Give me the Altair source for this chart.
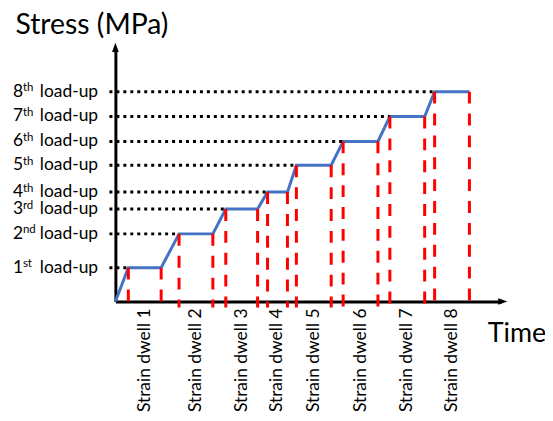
import altair as alt
import pandas as pd

# ---- data ----
nums = ["1", "2", "3", "4", "5", "6", "7", "8"]
sups = ["st", "nd", "rd", "th", "th", "th", "th", "th"]
stress = [3.4, 6.8, 9.3, 11.0, 13.7, 16.1, 18.6, 21.1]
dwell_start = [1.3, 6.4, 11.1, 15.3, 18.2, 22.9, 27.6, 32.1]
dwell_end = [4.6, 9.8, 14.3, 17.3, 21.7, 26.4, 31.1, 35.6]
dwell_names = ["Strain dwell " + n for n in nums]

X_MAX = 38.8
Y_MAX = 25.4
BELOW = -0.6   # dashed guides run just below the time axis
LEFT = -0.6    # dotted guides start just left of the stress axis
LABEL_Y = -0.7

FONT = "Lato"

levels = pd.DataFrame({
    "num": nums, "sup": sups, "stress": stress,
    "start": dwell_start, "end": dwell_end, "name": dwell_names,
})

path_t, path_s = [0.0], [0.0]
for s, a, b in zip(stress, dwell_start, dwell_end):
    path_t += [a, b]
    path_s += [s, s]
path = pd.DataFrame({"t": path_t, "s": path_s, "o": list(range(len(path_t)))})

guides = pd.DataFrame({"t": dwell_start + dwell_end, "s": stress + stress})

xs = alt.Scale(domain=[0, X_MAX], nice=False, zero=False)
ys = alt.Scale(domain=[0, Y_MAX], nice=False, zero=False)

x_axis = alt.Axis(
    title="Time", ticks=False, labels=False, grid=False,
    domainColor="black", domainWidth=3,
    titleFont=FONT, titleFontSize=27, titleFontWeight="normal", titleColor="black",
    titleX=374, titleY=40, titleAlign="left", titleBaseline="alphabetic", titleAnchor="start",
)
y_axis = alt.Axis(
    title="Stress (MPa)", ticks=False, labels=False, grid=False,
    domainColor="black", domainWidth=3,
    titleFont=FONT, titleFontSize=28.5, titleFontWeight="normal", titleColor="black",
    titleAngle=0, titleX=-101, titleY=-15, titleAlign="left", titleBaseline="alphabetic",
    titleAnchor="start",
)

line = alt.Chart(path).mark_line(color="#4472C4", strokeWidth=3).encode(
    x=alt.X("t:Q", scale=xs, axis=x_axis),
    y=alt.Y("s:Q", scale=ys, axis=y_axis),
    order="o:Q",
)

dotted = alt.Chart(levels).transform_calculate(
    left=str(LEFT)
).mark_rule(color="black", strokeWidth=3, strokeDash=[3, 4]).encode(
    x=alt.X("left:Q"),
    x2=alt.X2("start:Q"),
    y=alt.Y("stress:Q"),
)

dashed = alt.Chart(guides).transform_calculate(
    below=str(BELOW)
).mark_rule(color="#FF0000", strokeWidth=3, strokeDash=[12, 10]).encode(
    x=alt.X("t:Q"),
    y=alt.Y("s:Q"),
    y2=alt.Y2("below:Q"),
)

num_text = alt.Chart(levels).mark_text(
    font=FONT, fontSize=17.5, align="left", baseline="alphabetic", dy=5, color="black"
).encode(x=alt.value(-103), y=alt.Y("stress:Q"), text="num:N")

sup_text = alt.Chart(levels).mark_text(
    font=FONT, fontSize=11.5, align="left", baseline="alphabetic", dy=-0.5, color="black"
).encode(x=alt.value(-93), y=alt.Y("stress:Q"), text="sup:N")

load_text = alt.Chart(levels).mark_text(
    font=FONT, fontSize=17.5, align="left", baseline="alphabetic", dy=5, color="black"
).encode(x=alt.value(-76), y=alt.Y("stress:Q"), text=alt.value("load-up"))

dwell_text = alt.Chart(levels).transform_calculate(
    mid="(datum.start + datum.end) / 2", ly=str(LABEL_Y)
).mark_text(
    font=FONT, fontSize=17.5, angle=270, align="right", baseline="middle", color="black"
).encode(x=alt.X("mid:Q"), y=alt.Y("ly:Q"), text="name:N")

arrows = pd.DataFrame({"t": [X_MAX, 0.0], "s": [0.0, Y_MAX],
                       "dir": ["x", "y"]})

x_arrow = alt.Chart(arrows).transform_filter("datum.dir == 'x'").mark_point(
    shape="M1,0L-0.5,0.55L-0.5,-0.55Z", filled=True, size=150, color="black", opacity=1
).encode(x="t:Q", y="s:Q")

y_arrow = alt.Chart(arrows).transform_filter("datum.dir == 'y'").mark_point(
    shape="M0,-1L0.55,0.5L-0.55,0.5Z", filled=True, size=150, color="black", opacity=1
).encode(x="t:Q", y="s:Q")

chart = alt.layer(
    line, dotted, dashed, num_text, sup_text, load_text, dwell_text, x_arrow, y_arrow
).properties(
    width=388, height=254,
    autosize=alt.AutoSizeParams(type="none"),
    padding={"left": 108, "top": 40, "right": 44, "bottom": 111},
).configure_view(stroke=None)

chart.save("out.html", embed_options={"renderer": "svg", "actions": False})
